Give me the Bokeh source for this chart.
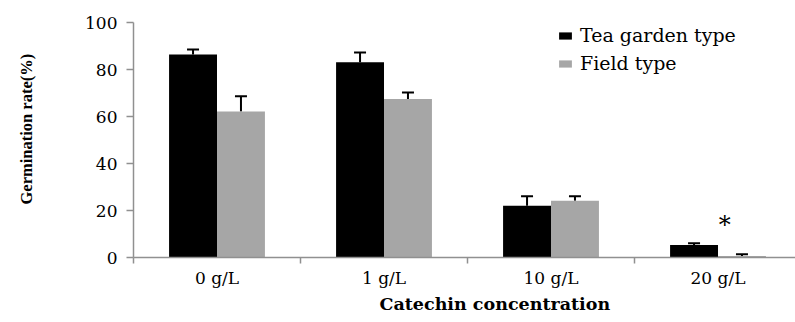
import numpy as np
from bokeh.plotting import figure
from bokeh.models import (ColumnDataSource, Range1d, FixedTicker, Whisker, TeeHead,
                          Legend, LegendItem, Title)
from bokeh.core.properties import value
from bokeh.embed import file_html
from bokeh.resources import INLINE

categories = ["0 g/L", "1 g/L", "10 g/L", "20 g/L"]
tea_garden = [86.4, 83.1, 22.0, 5.3]
tea_garden_err = [2.1, 4.1, 4.1, 0.8]
field = [62.1, 67.5, 24.1, 0.6]
field_err = [6.5, 2.7, 2.0, 0.8]
y_ticks = [0, 20, 40, 60, 80, 100]
star_category = "20 g/L"
star_y = 14.0

SERIF = "DejaVu Serif"
bw = 0.287
centers = np.arange(len(categories)) + 0.5

p = figure(width=795, height=322, output_backend="svg", toolbar_location=None,
           x_range=Range1d(0, 3.964), y_range=Range1d(0, 100),
           min_border_left=133, min_border_right=0, min_border_top=22,
           min_border_bottom=65)
p.outline_line_color = None
p.xgrid.visible = False
p.ygrid.visible = False

src_t = ColumnDataSource(dict(x=centers - bw / 2, top=tea_garden,
                              upper=np.array(tea_garden) + np.array(tea_garden_err)))
src_f = ColumnDataSource(dict(x=centers + bw / 2, top=field,
                              upper=np.array(field) + np.array(field_err)))

r_t = p.vbar(x="x", top="top", bottom=0, width=bw, source=src_t,
             fill_color="#000000", line_color=None)
r_f = p.vbar(x="x", top="top", bottom=0, width=bw, source=src_f,
             fill_color="#a6a6a6", line_color=None)

for src in (src_t, src_f):
    w = Whisker(source=src, base="x", upper="upper", lower="top",
                upper_head=TeeHead(size=12, line_width=2, line_color="black"),
                lower_head=None, line_width=2, line_color="black")
    p.add_layout(w)

si = categories.index(star_category)
p.text(x=[centers[si] + 0.04], y=[star_y], text=["*"], text_font=value(SERIF),
       text_font_size="24px", text_align="center", text_baseline="middle",
       text_color="black")

# axes
ax = p.xaxis[0]
ax.ticker = FixedTicker(ticks=list(centers), minor_ticks=list(np.arange(len(categories) + 1)))
ax.major_label_overrides = {float(c): lab for c, lab in zip(centers, categories)}
ax.major_tick_line_color = None
ax.major_tick_out = 6
ax.major_tick_in = 0
ax.minor_tick_out = 6
ax.minor_tick_in = 0
ax.minor_tick_line_color = "#909090"
ax.minor_tick_line_width = 1.5
ax.axis_line_color = "#909090"
ax.axis_line_width = 1.5
ax.major_label_standoff = 4
ax.major_label_text_font = SERIF
ax.major_label_text_font_size = "17px"
ax.major_label_text_color = "black"

ay = p.yaxis[0]
ay.ticker = FixedTicker(ticks=y_ticks, minor_ticks=[])
ay.major_tick_out = 7
ay.major_tick_in = 0
ay.major_tick_line_color = "#909090"
ay.major_tick_line_width = 1.5
ay.axis_line_color = "#909090"
ay.axis_line_width = 1.5
ay.major_label_standoff = 9
ay.major_label_text_font = SERIF
ay.major_label_text_font_size = "17px"
ay.major_label_text_color = "black"

# spacer panel between the tick labels and the y title
spacer = Title(text=" ", text_font_size="10px", standoff=32)
p.add_layout(spacer, "left")
yt = Title(text="Germination rate(%)", align="left", offset=53,
           text_font="Liberation Serif", text_font_style="bold", text_font_size="16.5px",
           text_color="black", standoff=4)
p.add_layout(yt, "left")

xt = Title(text="Catechin concentration", align="left", offset=246,
           text_font=SERIF, text_font_style="bold", text_font_size="17.5px",
           text_color="black", standoff=2)
p.add_layout(xt, "below")

legend = Legend(items=[LegendItem(label="Tea garden type", renderers=[r_t]),
                       LegendItem(label="Field type", renderers=[r_f])],
                location=(424, 183), margin=0, padding=0, spacing=6,
                glyph_width=16, glyph_height=9, label_standoff=7, label_height=20,
                label_text_font=SERIF, label_text_font_size="19px",
                label_text_color="black", border_line_color=None,
                background_fill_alpha=0)
p.add_layout(legend)

open("out.html", "w").write(file_html(p, INLINE))
